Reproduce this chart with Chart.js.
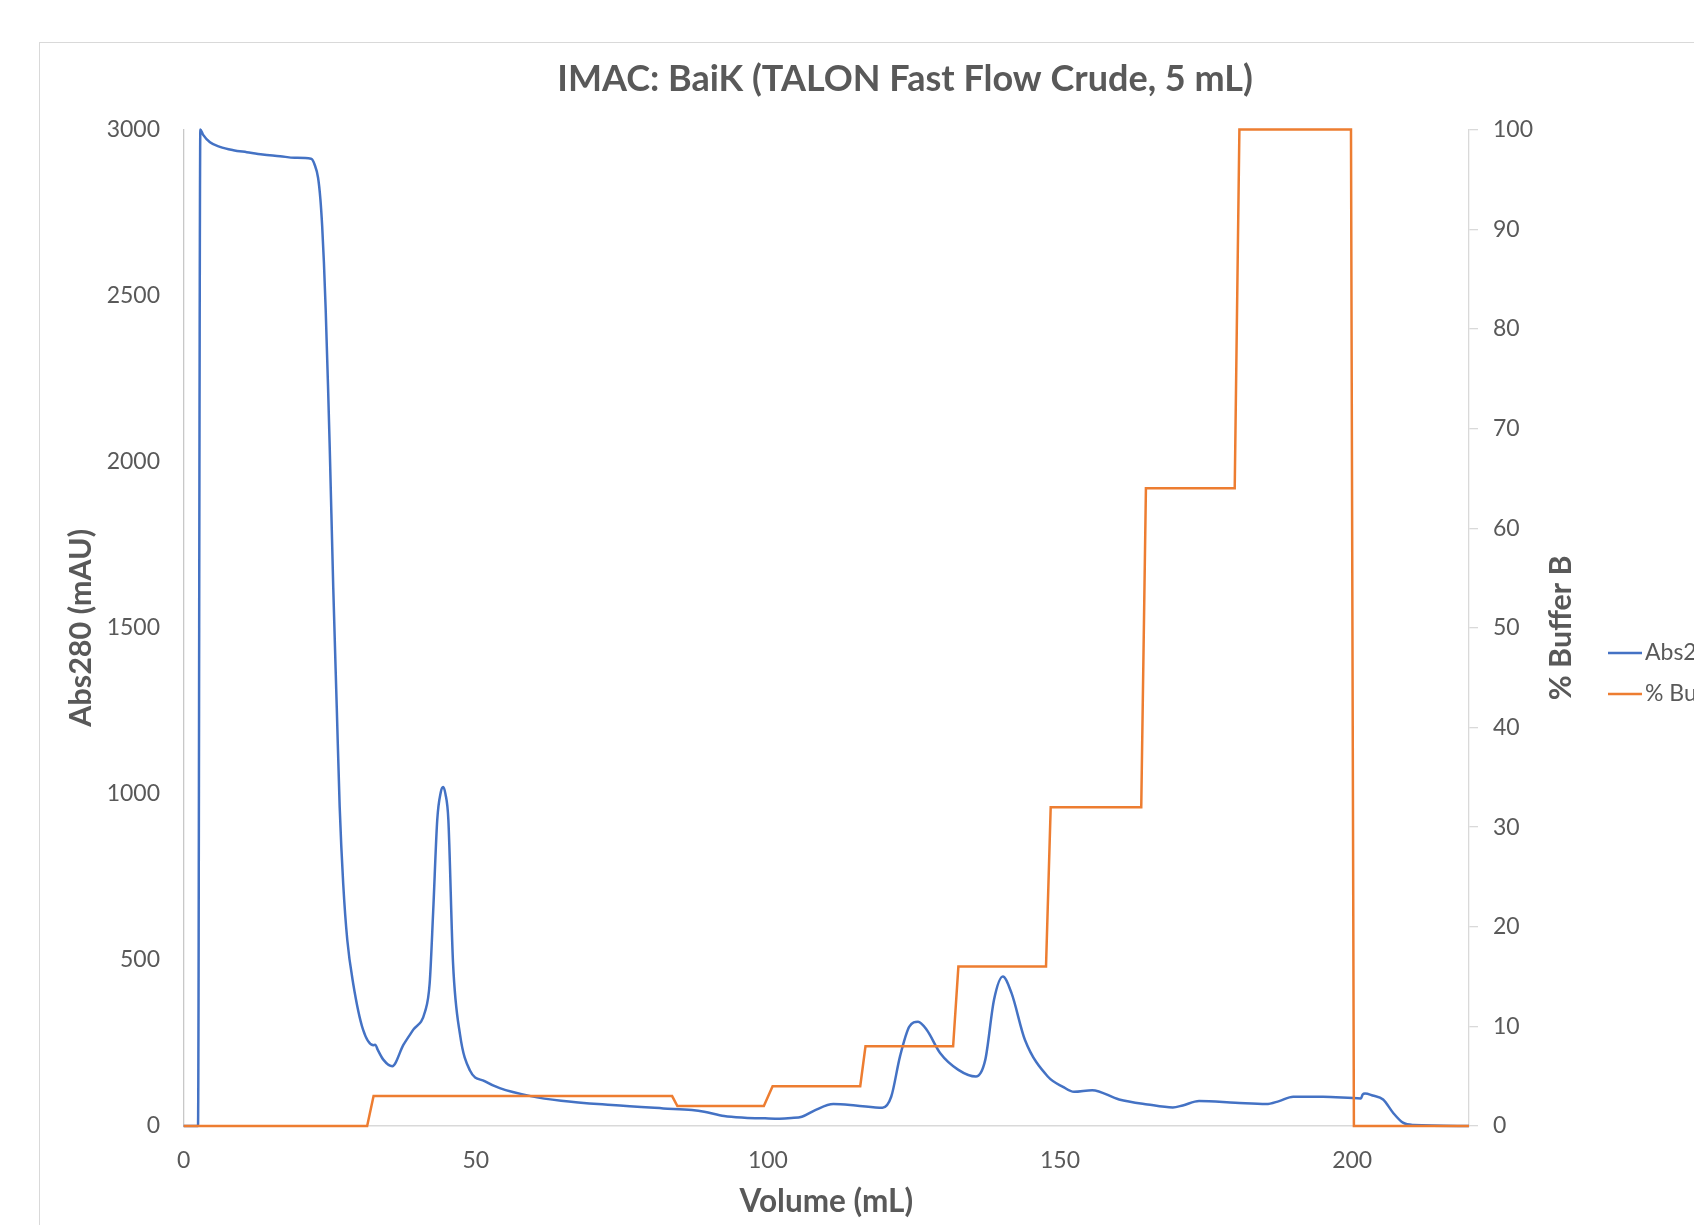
<!DOCTYPE html>
<html>
<head>
<meta charset="utf-8">
<title>IMAC: BaiK</title>
<script src="https://cdn.jsdelivr.net/npm/chart.js@4/dist/chart.umd.min.js"></script>
<style>
    html, body { margin: 0; padding: 0; background: #fff; overflow: hidden; }
    #frame { position: absolute; left: 39px; top: 42px; border: 1px solid #d9d9d9; }
    canvas { display: block; }
</style>
</head>
<body>
<div id="frame"><canvas id="chart" width="1730" height="1260"></canvas></div>
<script>
// === Data ===
const volumeAbs = [0, 2.45, 2.85, 3.3, 4.5, 6.2, 8.5, 10.8, 13.5, 16.5, 19, 21.8, 22.4, 23.0, 23.4, 23.7, 24.0, 24.3, 24.7, 25.0, 25.6, 26.2, 26.7, 27.3, 28.0, 29.0, 30.7, 32.5, 32.8, 33.2, 34.2, 35.7, 37.6, 39.3, 41.3, 42.1, 42.7, 43.4, 44.0, 44.4, 44.8, 45.3, 46.1, 47.3, 49.0, 51.5, 54.1, 59.4, 64.6, 73.3, 82.1, 87, 89.1, 92.5, 96, 99.5, 102, 104, 105.8, 108.1, 111.2, 115, 119.6, 121.1, 122.6, 124.2, 125.7, 127.2, 129.5, 132.6, 135.6, 137.2, 138.7, 140.2, 141.7, 144.0, 147.9, 150.5, 152.4, 155.5, 160.1, 165, 169.3, 171, 173.8, 180, 185.3, 187.5, 189.9, 195, 201.5, 201.8, 202.2, 203.5, 205.3, 207, 208.7, 210.5, 220];
const abs280 = [0, 0, 3000, 2985, 2962, 2948, 2938, 2932, 2925, 2920, 2915, 2912, 2895, 2855, 2790, 2710, 2600, 2460, 2230, 2040, 1620, 1260, 960, 730, 560, 430, 290, 243, 245, 230, 199, 180, 244, 290, 344, 429, 645, 922, 1005, 1021, 1000, 922, 491, 275, 167, 135, 114, 90, 76, 63, 53, 48, 43, 30, 25, 23, 22, 24, 28, 48, 66, 62, 55, 88, 209, 299, 314, 289, 219, 169, 149, 199, 380, 450, 400, 259, 149, 118, 103, 108, 80, 65, 56, 62, 75, 70, 66, 75, 88, 88, 83, 95, 98, 92, 80, 40, 10, 3, 0];

const volumeB = [0, 31.4, 32.5, 83.6, 84.5, 99.3, 100.8, 115.8, 116.7, 131.7, 132.6, 147.6, 148.4, 163.9, 164.7, 179.9, 180.7, 199.8, 200.3, 220];
const bufferB = [0, 0, 3, 3, 2, 2, 4, 4, 8, 8, 16, 16, 32, 32, 64, 64, 100, 100, 0, 0];

const xTicks = [0, 50, 100, 150, 200];
const absTickStep = 500;
const bufferTickStep = 10;

const seriesNames = ['Abs280 (mAU)', '% Buffer B'];
const seriesColors = ['#4472C4', '#ED7D31'];

const toPoints = (xs, ys) => xs.map((x, i) => ({ x: x, y: ys[i] }));

const textColor = '#595959';
const fontFamily = 'Lato, "Open Sans", sans-serif';

// draws the line legend and the right-hand axis title (reads bottom to top)
const extrasPlugin = {
    id: 'extras',
    afterDraw(chart) {
        const ctx = chart.ctx;
        const area = chart.chartArea;
        ctx.save();
        // right axis title
        ctx.fillStyle = textColor;
        ctx.font = 'bold 30.5px ' + fontFamily;
        ctx.textAlign = 'center';
        ctx.textBaseline = 'middle';
        ctx.translate(1521, (area.top + area.bottom) / 2);
        ctx.rotate(-Math.PI / 2);
        ctx.fillText(seriesNames[1], 0, 0);
        ctx.restore();

        // legend
        ctx.save();
        ctx.font = '23px ' + fontFamily;
        ctx.textAlign = 'left';
        ctx.textBaseline = 'middle';
        chart.data.datasets.forEach((ds, i) => {
            const y = 610 + i * 41;
            ctx.strokeStyle = ds.borderColor;
            ctx.lineWidth = 2.5;
            ctx.beginPath();
            ctx.moveTo(1568, y);
            ctx.lineTo(1602, y);
            ctx.stroke();
            ctx.fillStyle = textColor;
            ctx.fillText(ds.label, 1605, y);
        });
        ctx.restore();
    }
};

const plainNumber = (value) => String(value);

const ctx = document.getElementById('chart').getContext('2d');
new Chart(ctx, {
    type: 'line',
    data: {
        datasets: [
            {
                label: seriesNames[0],
                data: toPoints(volumeAbs, abs280),
                borderColor: seriesColors[0],
                borderWidth: 2.5,
                pointRadius: 0,
                cubicInterpolationMode: 'monotone',
                yAxisID: 'y',
                order: 1,
                clip: 6
            },
            {
                label: seriesNames[1],
                data: toPoints(volumeB, bufferB),
                borderColor: seriesColors[1],
                borderWidth: 2.5,
                pointRadius: 0,
                tension: 0,
                yAxisID: 'y2',
                order: 0,
                clip: 6
            }
        ]
    },
    options: {
        responsive: false,
        animation: false,
        parsing: false,
        layout: { padding: 0 },
        plugins: {
            legend: { display: false },
            tooltip: { enabled: false },
            title: {
                display: true,
                text: 'IMAC: BaiK (TALON Fast Flow Crude, 5 mL)',
                color: textColor,
                font: { family: fontFamily, size: 36, weight: 'bold' },
                padding: { top: 14.4, bottom: 29 }
            }
        },
        scales: {
            x: {
                type: 'linear',
                min: 0,
                max: 220,
                ticks: { stepSize: 50, color: textColor, font: { family: fontFamily, size: 23 }, padding: 20.6, maxRotation: 0, callback: plainNumber },
                afterBuildTicks: (scale) => { scale.ticks = scale.ticks.filter(t => xTicks.includes(t.value)); },
                afterFit: (scale) => { scale.height = 177; },
                grid: { display: false, drawTicks: false },
                border: { display: true, color: '#d9d9d9', width: 1.5 },
                title: {
                    display: true,
                    text: 'Volume (mL)',
                    color: textColor,
                    font: { family: fontFamily, size: 31.5, weight: 'bold' },
                    padding: { top: 0, bottom: 82 }
                }
            },
            y: {
                position: 'left',
                min: 0,
                max: 3000,
                ticks: { stepSize: absTickStep, color: textColor, font: { family: fontFamily, size: 23 }, padding: 23.7, callback: plainNumber },
                afterFit: (scale) => { scale.width = 143.7; },
                grid: { display: false, drawTicks: false },
                border: { display: true, color: '#c8c8c8', width: 1.3 },
                title: {
                    display: true,
                    text: seriesNames[0],
                    color: textColor,
                    font: { family: fontFamily, size: 30.5, weight: 'bold' },
                    padding: { top: 23, bottom: 0 }
                }
            },
            y2: {
                position: 'right',
                min: 0,
                max: 100,
                ticks: { stepSize: bufferTickStep, color: textColor, font: { family: fontFamily, size: 23 }, padding: 15, callback: plainNumber },
                afterFit: (scale) => { scale.width = 301; },
                grid: { display: true, drawOnChartArea: false, drawTicks: true, tickLength: 9, color: '#d9d9d9', lineWidth: 1.3 },
                border: { display: true, color: '#d9d9d9', width: 1.3 },
                title: { display: false }
            }
        }
    },
    plugins: [extrasPlugin]
});
</script>
</body>
</html>
